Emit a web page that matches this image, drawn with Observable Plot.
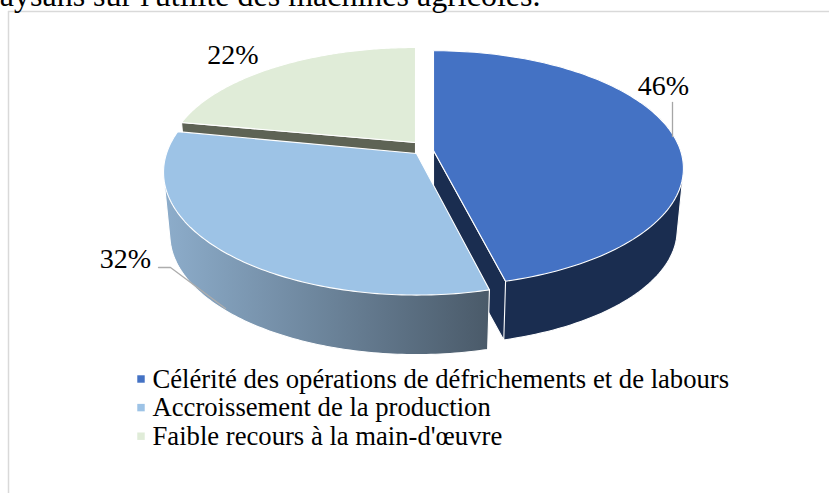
<!DOCTYPE html>
<html><head><meta charset="utf-8">
<script src="https://cdn.jsdelivr.net/npm/d3@7"></script>
<script src="https://cdn.jsdelivr.net/npm/@observablehq/plot@0.6"></script>
<style>html,body{margin:0;padding:0;background:#fff}svg{display:block}</style>
</head><body><div id="chart"></div>
<script>
const categories = ["Célérité des opérations de défrichements et de labours","Accroissement de la production","Faible recours à la main-d'œuvre"];
const shares = [46, 32, 22];
const labels = ["46%", "32%", "22%"];
const topColors = ["#4472c4", "#9dc3e6", "#e0ecd8"];
const cutColors = ["#1a2d50", "#4c5c6c", "#5e6355"];
const headline = "paysans sur l'utilité des machines agricoles.";

// Projection of the tilted, exploded disc
const persp = 0.1525;
const geom = [
  {cx:433, cy:150, rx:247, k:115, bcy:212},
  {cx:416, cy:153, rx:250, k:120, bcy:216},
  {cx:415, cy:142, rx:245, k:109.5, bcy:204}
];
const depth = 0.975;
const turns = d3.cumsum(shares).map(v => v / d3.sum(shares) * 2 * Math.PI);
const span = i => [i ? turns[i-1] : 0, turns[i]];
function pt(i, t, bottom) {
  const g = geom[i], f = bottom ? depth : 1;
  const X = Math.sin(t), Y = Math.cos(t), s = 1/(1 + persp*Y);
  return {category: categories[i], x: g.cx + g.rx*f*X*s, y: (bottom ? g.bcy : g.cy) - g.k*f*Y*s};
}
function rim(i, bottom) {
  const [a,b] = span(i);
  return d3.range(0, 121).map(j => pt(i, a + (b-a)*j/120, bottom));
}
const apex = (i, bottom) => ({category: categories[i], x: geom[i].cx, y: bottom ? geom[i].bcy : geom[i].cy});
const topFace = i => [apex(i,false), ...rim(i,false), apex(i,false)];
const outerWall = i => {
  const hull = d3.polygonHull([...rim(i,false), ...rim(i,true)].map(p => [p.x, p.y]));
  return [...hull, hull[0]].map(([x,y]) => ({x,y}));
};
const cutWall = (i, t) => [apex(i,false), pt(i,t,false), pt(i,t,true), apex(i,true), apex(i,false)];

const font = "Liberation Serif";
const poly = (data, fill) => Plot.line(data, {x:"x", y:"y", fill, stroke:"#fff", strokeWidth:1.1, strokeLinejoin:"round"});
const face = i => Plot.line(topFace(i), {x:"x", y:"y", z:"category", fill:"category", stroke:"#fff", strokeWidth:1.1});

const defs = (index, scales, values, dim, ctx) => {
  const d = d3.select(ctx.document.createElementNS("http://www.w3.org/2000/svg","defs"));
  const g = d.append("linearGradient").attr("id","wall2");
  g.append("stop").attr("offset","0%").attr("stop-color","#8dadcb");
  g.append("stop").attr("offset","100%").attr("stop-color","#4a5a69");
  return d.node();
};

const legendRows = categories.map((c,i)=>({category:c, row:i}));
const legendY = d => 378.5 + d.row*28.6;

const chart = Plot.plot({
  width:829, height:493, margin:0,
  x:{axis:null, domain:[0,829]},
  y:{axis:null, domain:[493,0]},
  color:{domain:categories, range:topColors},
  style:{background:"#fff"},
  marks:[
    defs,
    // frame
    Plot.ruleY([11], {x1:8, x2:829, stroke:"#d9d9d9", strokeWidth:1.5}),
    Plot.ruleX([8], {y1:11, y2:493, stroke:"#d9d9d9", strokeWidth:1.5}),
    Plot.text([headline], {x:540, y:-5, text:d=>d, textAnchor:"end", fontFamily:font, fontSize:32, fill:"#000"}),
    // slice 3
    poly(cutWall(2, span(2)[0]), cutColors[2]), face(2),
    // slice 1
    poly(outerWall(0), cutColors[0]), poly(cutWall(0, span(0)[1]), cutColors[0]), face(0),
    // slice 2
    poly(outerWall(1), "url(#wall2)"), face(1),
    // leaders
    Plot.line([{x:672,y:102},{x:672,y:136}], {x:"x",y:"y",stroke:"#a6a6a6",strokeWidth:1.3}),
    Plot.line([{x:158,y:267},{x:170,y:267},{x:225,y:308}], {x:"x",y:"y",stroke:"#adadad",strokeWidth:1.3}),
    // value labels
    Plot.text(labels, {x:[663,125,232.5], y:[86,259,55], text:d=>d, fontFamily:font, fontSize:28, fill:"#000"}),
    // legend
    Plot.dot(legendRows, {x:()=>140.5, y:legendY, r:4.2, symbol:"square", fill:"category"}),
    Plot.text(legendRows, {x:()=>152, y:legendY, text:"category", textAnchor:"start", fontFamily:font, fontSize:26.67, fill:"#000"})
  ]
});
document.getElementById("chart").append(chart);
</script></body></html>
